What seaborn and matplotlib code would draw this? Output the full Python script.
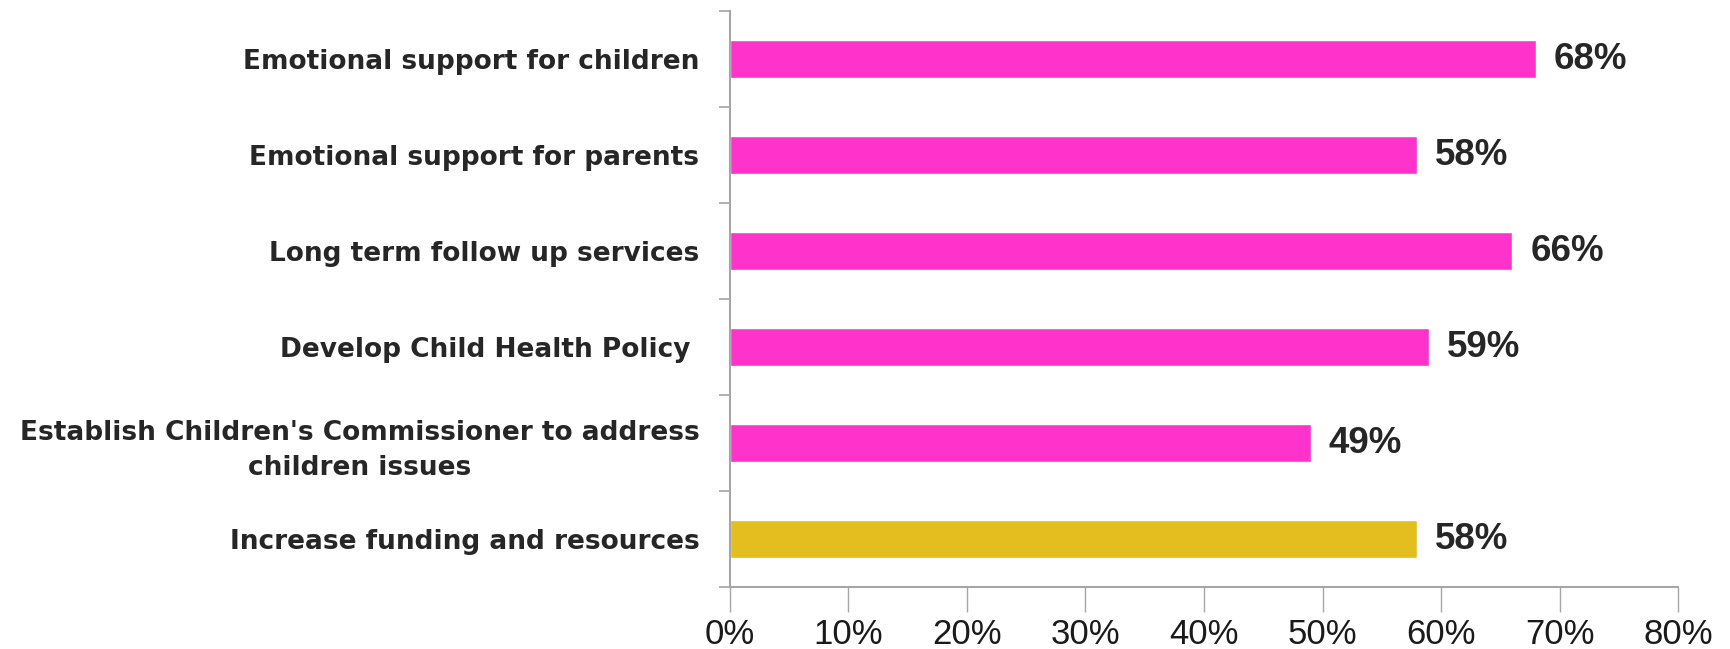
import matplotlib
matplotlib.use("Agg")
import matplotlib.pyplot as plt
import seaborn as sns
import pandas as pd
from matplotlib.ticker import FixedLocator, PercentFormatter

categories = [
    "Emotional support for children",
    "Emotional support for parents",
    "Long term follow up services",
    "Develop Child Health Policy ",
    "Establish Children's Commissioner to address\nchildren issues",
    "Increase funding and resources",
]
values = [68, 58, 66, 59, 49, 58]
groups = ["a", "a", "a", "a", "a", "b"]
palette = {"a": "#FF33CC", "b": "#E2BE1E"}
xticks = [0, 10, 20, 30, 40, 50, 60, 70, 80]

df = pd.DataFrame({"category": categories, "value": values, "group": groups})

sns.set_theme(style="white")
plt.rcParams["font.family"] = ["DejaVu Sans"]

fig = plt.figure(figsize=(17.31, 6.49), dpi=100)
ax = fig.add_axes([0.4217, 0.0955, 0.9694 - 0.4217, 0.983 - 0.0955])

sns.barplot(data=df, y="category", x="value", hue="group", palette=palette,
            orient="h", width=0.4, dodge=False, legend=False, ax=ax,
            saturation=1)

ax.set_xlim(0, 80)
ax.set_ylim(len(categories) - 0.5, -0.5)
ax.set_xlabel("")
ax.set_ylabel("")

axis_col = "#A6A6A6"
for s in ["top", "right"]:
    ax.spines[s].set_visible(False)
for s in ["left", "bottom"]:
    ax.spines[s].set_color(axis_col)
    ax.spines[s].set_linewidth(1.5)

ax.xaxis.set_major_locator(FixedLocator(xticks))
ax.xaxis.set_major_formatter(PercentFormatter(decimals=0))
ax.tick_params(axis="x", which="major", direction="out", length=18, width=1,
               color=axis_col, pad=4, labelsize=25, labelcolor="#1a1a1a",
               bottom=True)
for lab in ax.get_xticklabels():
    lab.set_family(["Liberation Sans", "DejaVu Sans"])

ax.yaxis.set_minor_locator(FixedLocator([i - 0.5 for i in range(len(categories) + 1)]))
ax.tick_params(axis="y", which="minor", direction="out", length=8, width=1.2,
               color=axis_col, left=True)
ax.tick_params(axis="y", which="major", length=0, pad=22, labelsize=19,
               labelcolor="#262626")
for lab in ax.get_yticklabels():
    lab.set_fontweight("bold")
    lab.set_multialignment("center")
    lab.set_linespacing(1.45)

for i, v in enumerate(values):
    ax.annotate(f"{v}%", xy=(v, i), xytext=(13, 0), textcoords="offset points",
                ha="left", va="center", fontsize=26.5, fontweight="bold",
                color="#262626", family=["Liberation Sans", "DejaVu Sans"])

fig.savefig("out.png", dpi=100)
